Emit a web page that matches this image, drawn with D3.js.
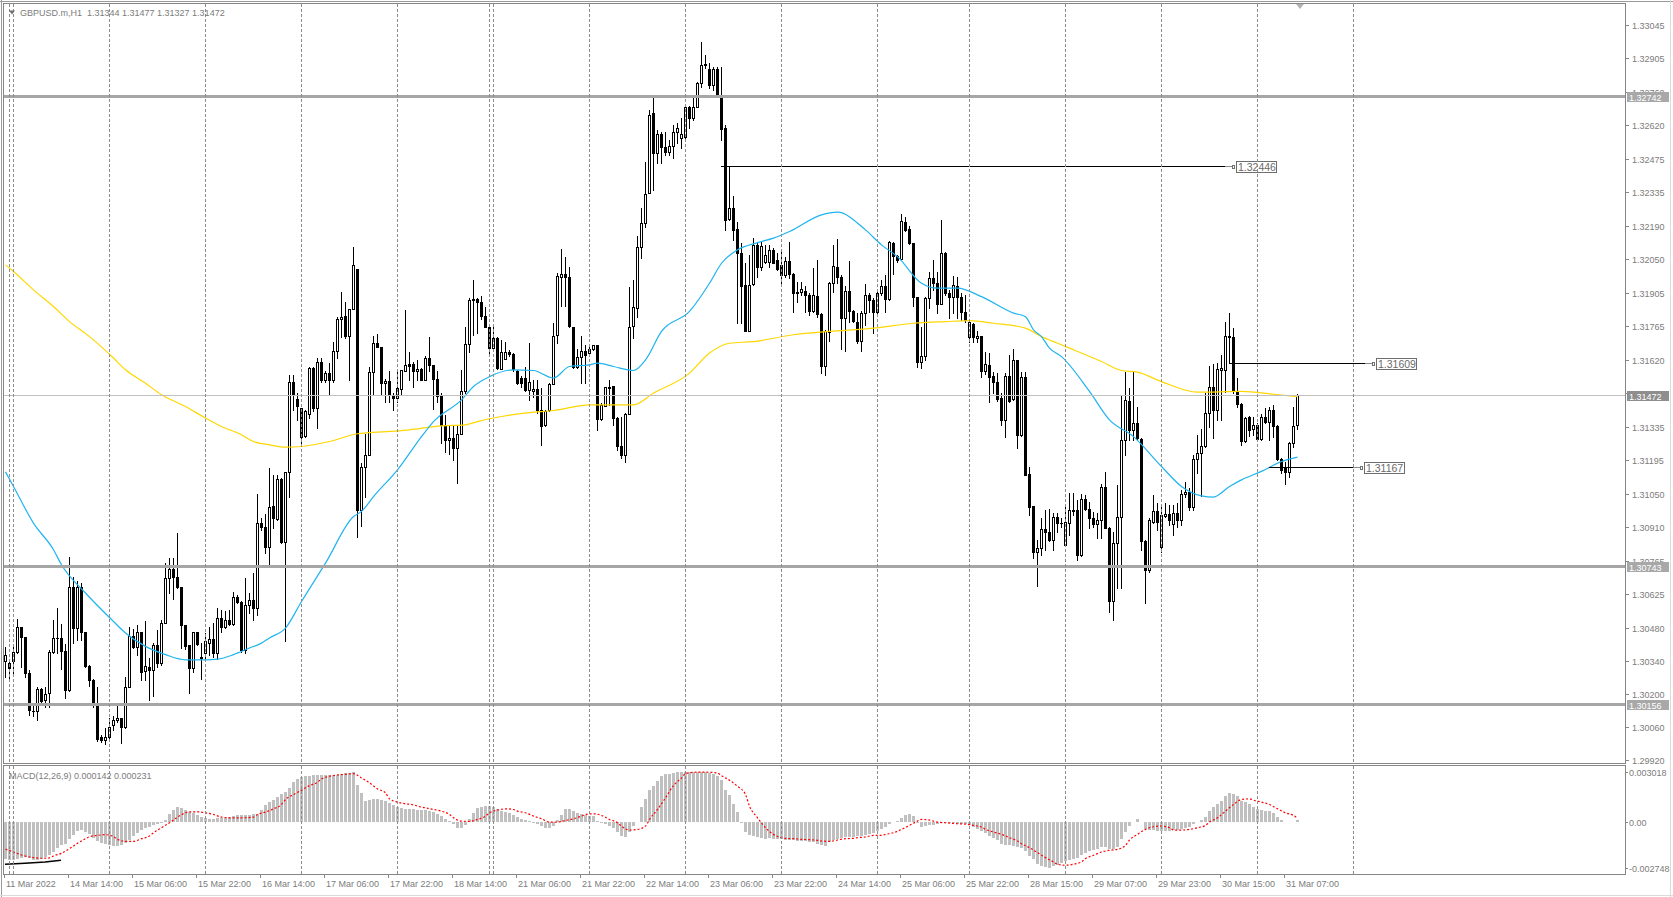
<!DOCTYPE html>
<html><head><meta charset="utf-8">
<script src="https://cdn.jsdelivr.net/npm/d3@7"></script>
<style>
html,body{margin:0;padding:0;background:#fff;overflow:hidden}
svg{display:block}
</style></head><body><div id="c"></div>
<script>
// ---------- DATA ----------
const symbolTitle = "GBPUSD.m,H1";
const lastBarOHLC = [1.31344, 1.31477, 1.31327, 1.31472];

const open = [
1.30343,1.30334,1.30339,1.30381,1.30484,1.30445,1.30289,1.30130,1.30127,1.30221,
1.30173,1.30204,1.30381,1.30438,1.30440,1.30385,1.30218,1.30657,1.30480,1.30657,
1.30466,1.30319,1.30261,1.30161,1.30017,1.30006,1.30017,1.30069,1.30088,1.30098,
1.30062,1.30232,1.30449,1.30402,1.30463,1.30299,1.30317,1.30303,1.30408,1.30334,
1.30501,1.30693,1.30731,1.30700,1.30654,1.30492,1.30408,1.30310,1.30463,1.30360,
1.30374,1.30419,1.30435,1.30374,1.30523,1.30487,1.30516,1.30497,1.30612,1.30591,
1.30388,1.30579,1.30601,1.30565,1.30927,1.30910,1.30825,1.30998,1.30944,1.31114,
1.30845,1.31144,1.31526,1.31456,1.31416,1.31296,1.31390,1.31586,1.31416,1.31612,
1.31536,1.31565,1.31534,1.31661,1.31794,1.31808,1.31723,1.31838,1.32008,1.30984,
1.31165,1.31215,1.31569,1.31695,1.31675,1.31522,1.31532,1.31470,1.31458,1.31497,
1.31576,1.31603,1.31603,1.31572,1.31583,1.31536,1.31631,1.31600,1.31541,1.31470,
1.31345,1.31279,1.31288,1.31246,1.31307,1.31490,1.31688,1.31876,1.31881,1.31867,
1.31808,1.31763,1.31671,1.31714,1.31583,1.31626,1.31654,1.31647,1.31576,1.31543,
1.31543,1.31494,1.31489,1.31497,1.31409,1.31345,1.31409,1.31519,1.31727,1.31975,
1.31985,1.31973,1.31763,1.31593,1.31633,1.31657,1.31652,1.31667,1.31685,1.31369,
1.31427,1.31501,1.31511,1.31373,1.31256,1.31215,1.31392,1.31766,1.31841,1.32100,
1.32202,1.32330,1.32670,1.32500,1.32582,1.32525,1.32507,1.32531,1.32588,1.32564,
1.32568,1.32695,1.32649,1.32698,1.32797,1.32875,1.32857,1.32790,1.32858,1.32741,
1.32606,1.32219,1.32266,1.32177,1.32077,1.31940,1.31744,1.31943,1.32110,1.32014,
1.32039,1.32039,1.32089,1.32046,1.32025,1.31982,1.32042,1.31985,1.31907,1.31908,
1.31914,1.31897,1.31831,1.31893,1.31816,1.31597,1.31741,1.31947,1.32015,1.31972,
1.31798,1.31914,1.31831,1.31784,1.31703,1.31819,1.31897,1.31876,1.31823,1.31904,
1.31935,1.31879,1.32117,1.32063,1.32050,1.32209,1.32176,1.32117,1.31887,1.31614,
1.31638,1.31883,1.31968,1.31947,1.31859,1.32077,1.31904,1.31890,1.31935,1.31890,
1.31826,1.31720,1.31774,1.31713,1.31723,1.31576,1.31600,1.31553,1.31529,1.31458,
1.31366,1.31553,1.31454,1.31621,1.31302,1.31550,1.31136,1.31000,1.30806,1.30820,
1.30901,1.30891,1.30856,1.30955,1.30929,1.30834,1.30926,1.30983,1.30983,1.30792,
1.31029,1.30986,1.30948,1.30924,1.30941,1.31080,1.30905,1.30594,1.30841,1.30955,
1.31281,1.31448,1.31323,1.31352,1.31284,1.30849,1.30728,1.30934,1.30980,1.30827,
1.30958,1.30966,1.30924,1.30969,1.30941,1.31051,1.31061,1.30997,1.31199,1.31224,
1.31255,1.31397,1.31505,1.31408,1.31578,1.31578,1.31724,1.31717,1.31490,1.31434,
1.31278,1.31377,1.31326,1.31345,1.31284,1.31377,1.31359,1.31408,1.31340,1.31199,
1.31160,1.31146,1.31267,1.31344];

const high = [
1.30402,1.30343,1.30408,1.30519,1.30487,1.30445,1.30303,1.30154,1.30232,1.30225,
1.30232,1.30388,1.30516,1.30565,1.30499,1.30414,1.30785,1.30700,1.30683,1.30672,
1.30466,1.30324,1.30263,1.30232,1.30027,1.30055,1.30098,1.30108,1.30164,1.30098,
1.30272,1.30487,1.30476,1.30494,1.30466,1.30509,1.30353,1.30416,1.30473,1.30516,
1.30757,1.30778,1.30778,1.30884,1.30657,1.30492,1.30408,1.30466,1.30466,1.30416,
1.30459,1.30487,1.30501,1.30565,1.30558,1.30555,1.30558,1.30636,1.30622,1.30594,
1.30693,1.30629,1.30714,1.31051,1.30948,1.30966,1.31160,1.31133,1.31133,1.31118,
1.31144,1.31555,1.31555,1.31480,1.31416,1.31409,1.31589,1.31593,1.31629,1.31629,
1.31572,1.31610,1.31699,1.31803,1.31908,1.31869,1.31838,1.32103,1.32008,1.31182,
1.31307,1.31593,1.31721,1.31732,1.31675,1.31541,1.31575,1.31480,1.31575,1.31579,
1.31834,1.31653,1.31614,1.31621,1.31586,1.31638,1.31718,1.31600,1.31572,1.31480,
1.31388,1.31345,1.31345,1.31345,1.31579,1.31760,1.31884,1.31961,1.31886,1.31893,
1.31845,1.31763,1.31763,1.31718,1.31706,1.31699,1.31664,1.31650,1.31579,1.31551,
1.31593,1.31692,1.31536,1.31536,1.31501,1.31409,1.31522,1.31777,1.31990,1.32092,
1.32057,1.32015,1.31763,1.31667,1.31723,1.31685,1.31678,1.31685,1.31685,1.31437,
1.31508,1.31536,1.31511,1.31380,1.31380,1.31394,1.31933,1.31961,1.32146,1.32266,
1.32464,1.32684,1.32734,1.32599,1.32588,1.32592,1.32556,1.32620,1.32627,1.32649,
1.32705,1.32701,1.32741,1.32804,1.32974,1.32918,1.32882,1.32865,1.32865,1.32865,
1.32620,1.32440,1.32316,1.32209,1.32117,1.32032,1.32066,1.32138,1.32117,1.32124,
1.32110,1.32110,1.32096,1.32075,1.32088,1.32060,1.32124,1.31989,1.31954,1.31954,
1.31935,1.31904,1.32010,1.32046,1.31819,1.31748,1.31954,1.32110,1.32134,1.31982,
1.31935,1.32043,1.31833,1.31819,1.31829,1.31944,1.31904,1.31883,1.31914,1.31961,
1.31982,1.32127,1.32124,1.32067,1.32242,1.32227,1.32191,1.32117,1.31890,1.31763,
1.31890,1.31996,1.32046,1.31996,1.32216,1.32081,1.31918,1.31978,1.31975,1.31904,
1.31897,1.31791,1.31780,1.31746,1.31723,1.31656,1.31652,1.31571,1.31567,1.31479,
1.31564,1.31642,1.31666,1.31621,1.31571,1.31571,1.31165,1.31000,1.30856,1.30948,
1.30983,1.30986,1.30969,1.30969,1.30948,1.31004,1.31054,1.31057,1.31026,1.31051,
1.31047,1.31019,1.30976,1.30969,1.31094,1.31146,1.30912,1.30891,1.31089,1.31472,
1.31571,1.31500,1.31571,1.31422,1.31288,1.30856,1.30948,1.31047,1.31012,1.31004,
1.31012,1.31004,1.31004,1.31012,1.31068,1.31104,1.31075,1.31217,1.31302,1.31326,
1.31479,1.31595,1.31604,1.31609,1.31642,1.31784,1.31819,1.31755,1.31543,1.31437,
1.31380,1.31383,1.31380,1.31352,1.31391,1.31415,1.31422,1.31430,1.31345,1.31203,
1.31189,1.31274,1.31422,1.31477];

const low = [
1.30275,1.30261,1.30289,1.30374,1.30314,1.30275,1.30112,1.30108,1.30091,1.30154,
1.30147,1.30147,1.30374,1.30374,1.30306,1.30183,1.30215,1.30416,1.30431,1.30431,
1.30317,1.30235,1.30147,1.30001,1.29996,1.29989,1.30006,1.30048,1.30083,1.29991,
1.30055,1.30232,1.30395,1.30367,1.30261,1.30261,1.30176,1.30190,1.30317,1.30324,
1.30501,1.30629,1.30603,1.30650,1.30395,1.30391,1.30204,1.30296,1.30408,1.30263,
1.30346,1.30367,1.30360,1.30348,1.30466,1.30480,1.30494,1.30494,1.30587,1.30381,
1.30374,1.30544,1.30516,1.30537,1.30898,1.30799,1.30749,1.30906,1.30941,1.30842,
1.30424,1.31040,1.31409,1.31366,1.31256,1.31293,1.31376,1.31402,1.31331,1.31529,
1.31529,1.31473,1.31529,1.31629,1.31718,1.31714,1.31534,1.31838,1.30868,1.30916,
1.31040,1.31215,1.31470,1.31674,1.31470,1.31444,1.31444,1.31409,1.31444,1.31477,
1.31572,1.31536,1.31504,1.31534,1.31534,1.31534,1.31572,1.31413,1.31444,1.31267,
1.31229,1.31222,1.31196,1.31097,1.31307,1.31480,1.31653,1.31728,1.31735,1.31794,
1.31760,1.31647,1.31664,1.31582,1.31582,1.31625,1.31636,1.31572,1.31519,1.31508,
1.31490,1.31451,1.31465,1.31394,1.31260,1.31338,1.31402,1.31519,1.31692,1.31851,
1.31851,1.31763,1.31586,1.31586,1.31522,1.31522,1.31642,1.31664,1.31324,1.31366,
1.31423,1.31430,1.31345,1.31239,1.31203,1.31189,1.31392,1.31713,1.31805,1.32053,
1.32188,1.32330,1.32344,1.32457,1.32460,1.32493,1.32493,1.32479,1.32542,1.32521,
1.32564,1.32606,1.32641,1.32698,1.32783,1.32861,1.32776,1.32769,1.32741,1.32556,
1.32174,1.32216,1.32131,1.31777,1.31777,1.31742,1.31742,1.31940,1.31975,1.32004,
1.32032,1.32018,1.32032,1.32004,1.31947,1.31975,1.31968,1.31826,1.31869,1.31897,
1.31826,1.31812,1.31826,1.31805,1.31564,1.31557,1.31703,1.31911,1.31947,1.31666,
1.31661,1.31784,1.31784,1.31692,1.31661,1.31770,1.31826,1.31737,1.31819,1.31897,
1.31826,1.31876,1.31986,1.32039,1.32050,1.32171,1.32113,1.31850,1.31593,1.31585,
1.31621,1.31840,1.31918,1.31819,1.31859,1.31897,1.31798,1.31819,1.31798,1.31791,
1.31784,1.31699,1.31696,1.31699,1.31550,1.31561,1.31444,1.31479,1.31448,1.31345,
1.31295,1.31444,1.31451,1.31245,1.31298,1.31132,1.30962,1.30778,1.30660,1.30792,
1.30813,1.30849,1.30813,1.30891,1.30912,1.30830,1.30877,1.30962,1.30771,1.30788,
1.30983,1.30905,1.30912,1.30863,1.30863,1.30905,1.30551,1.30516,1.30650,1.30650,
1.31217,1.31281,1.31281,1.31281,1.30813,1.30586,1.30721,1.30926,1.30898,1.30806,
1.30955,1.30919,1.30877,1.30912,1.30919,1.31040,1.30983,1.30983,1.31139,1.31043,
1.31252,1.31337,1.31288,1.31366,1.31366,1.31486,1.31607,1.31479,1.31422,1.31259,
1.31274,1.31298,1.31302,1.31281,1.31281,1.31352,1.31281,1.31295,1.31196,1.31139,
1.31094,1.31125,1.31252,1.31327];

const close = [
1.30367,1.30313,1.30381,1.30484,1.30445,1.30289,1.30133,1.30127,1.30221,1.30169,
1.30201,1.30381,1.30438,1.30440,1.30385,1.30218,1.30654,1.30480,1.30657,1.30466,
1.30319,1.30261,1.30161,1.30010,1.30003,1.30017,1.30059,1.30091,1.30098,1.30062,
1.30232,1.30449,1.30402,1.30463,1.30296,1.30321,1.30303,1.30408,1.30334,1.30501,
1.30693,1.30731,1.30700,1.30654,1.30492,1.30405,1.30310,1.30463,1.30412,1.30354,
1.30424,1.30435,1.30374,1.30523,1.30487,1.30516,1.30497,1.30612,1.30591,1.30388,
1.30579,1.30601,1.30565,1.30927,1.30910,1.30825,1.30997,1.30947,1.31114,1.30845,
1.31144,1.31526,1.31473,1.31423,1.31293,1.31402,1.31586,1.31416,1.31612,1.31536,
1.31565,1.31536,1.31661,1.31794,1.31803,1.31723,1.31838,1.32025,1.30984,1.31165,
1.31218,1.31569,1.31695,1.31675,1.31522,1.31532,1.31470,1.31458,1.31501,1.31579,
1.31600,1.31596,1.31572,1.31583,1.31536,1.31629,1.31600,1.31541,1.31466,1.31345,
1.31279,1.31288,1.31246,1.31307,1.31490,1.31688,1.31876,1.31879,1.31867,1.31806,
1.31763,1.31671,1.31714,1.31586,1.31654,1.31654,1.31647,1.31583,1.31525,1.31522,
1.31494,1.31529,1.31497,1.31409,1.31342,1.31404,1.31519,1.31723,1.31978,1.31985,
1.31973,1.31766,1.31593,1.31633,1.31657,1.31642,1.31667,1.31685,1.31369,1.31430,
1.31505,1.31508,1.31373,1.31253,1.31217,1.31392,1.31763,1.31845,1.32100,1.32202,
1.32327,1.32663,1.32500,1.32582,1.32525,1.32507,1.32531,1.32588,1.32606,1.32582,
1.32695,1.32649,1.32698,1.32797,1.32875,1.32880,1.32790,1.32857,1.32741,1.32602,
1.32216,1.32266,1.32174,1.32077,1.31936,1.31744,1.31940,1.32110,1.32014,1.32106,
1.32068,1.32089,1.32035,1.32007,1.31982,1.32042,1.31985,1.31904,1.31911,1.31921,
1.31897,1.31831,1.31897,1.31816,1.31597,1.31744,1.31947,1.32020,1.31972,1.31798,
1.31914,1.31831,1.31788,1.31703,1.31822,1.31897,1.31876,1.31823,1.31904,1.31935,
1.31879,1.32121,1.32063,1.32046,1.32212,1.32173,1.32117,1.31887,1.31614,1.31638,
1.31883,1.31968,1.31947,1.31859,1.32077,1.31904,1.31890,1.31940,1.31890,1.31826,
1.31791,1.31784,1.31720,1.31723,1.31576,1.31604,1.31547,1.31529,1.31455,1.31366,
1.31553,1.31448,1.31621,1.31302,1.31550,1.31132,1.30997,1.30806,1.30820,1.30901,
1.30891,1.30856,1.30955,1.30929,1.30926,1.30934,1.30983,1.30980,1.30792,1.31029,
1.30986,1.30948,1.30924,1.30941,1.31080,1.30905,1.30594,1.30841,1.30955,1.31281,
1.31451,1.31323,1.31352,1.31288,1.30849,1.30728,1.30941,1.30980,1.30934,1.30962,
1.30966,1.30941,1.30969,1.30941,1.31051,1.31061,1.30997,1.31199,1.31224,1.31255,
1.31397,1.31505,1.31408,1.31581,1.31585,1.31724,1.31717,1.31490,1.31434,1.31278,
1.31373,1.31323,1.31345,1.31284,1.31377,1.31359,1.31408,1.31340,1.31199,1.31153,
1.31146,1.31267,1.31340,1.31472];

// fast moving average (blue), read at sampled bars
const maFastBars = [0,2,7,12,14,20,27,30,35,40,45,50,53,57,61,64,66,70,74,80,87,89,92,98,104,107,114,117,121,127,132,137,141,146,148,152,157,160,164,171,176,179,183,188,192,196,204,208,215,219,223,229,233,238,244,252,255,257,259,261,264,271,276,282,289,294,299,302,306,309,314,319,323];
const maFastVals = [1.31145,1.31083,1.30927,1.30814,1.30750,1.30630,1.30509,1.30460,1.30403,1.30368,1.30346,1.30346,1.30349,1.30368,1.30396,1.30417,1.30439,1.30481,1.30594,1.30757,1.30955,1.30977,1.31040,1.31154,1.31295,1.31359,1.31451,1.31508,1.31550,1.31579,1.31576,1.31544,1.31593,1.31600,1.31607,1.31593,1.31576,1.31621,1.31742,1.31827,1.31947,1.32032,1.32089,1.32120,1.32139,1.32167,1.32238,1.32249,1.32174,1.32110,1.32060,1.31947,1.31926,1.31926,1.31890,1.31820,1.31805,1.31749,1.31720,1.31671,1.31635,1.31487,1.31366,1.31295,1.31168,1.31083,1.31043,1.31038,1.31083,1.31111,1.31147,1.31189,1.31208];
// slow moving average (yellow)
const maSlowBars = [0,2,7,12,16,21,27,30,35,39,45,50,54,59,62,66,70,74,81,88,96,101,109,115,118,122,131,137,146,157,162,171,176,181,187,197,206,217,227,235,241,247,255,259,262,266,274,279,283,289,298,309,317,323];
const maSlowVals = [1.32025,1.31997,1.31919,1.31848,1.31784,1.31720,1.31629,1.31579,1.31522,1.31473,1.31423,1.31374,1.31338,1.31303,1.31274,1.31260,1.31250,1.31253,1.31274,1.31307,1.31317,1.31324,1.31341,1.31345,1.31359,1.31374,1.31397,1.31406,1.31430,1.31430,1.31480,1.31565,1.31650,1.31692,1.31699,1.31728,1.31742,1.31756,1.31777,1.31784,1.31788,1.31777,1.31756,1.31720,1.31699,1.31671,1.31614,1.31576,1.31569,1.31529,1.31484,1.31487,1.31475,1.31465];

// MACD main (histogram), in millionths
const macdMainE6 = [
-2240,-2260,-2260,-2220,-2160,-2120,-2160,-2260,-2280,-2200,
-2100,-1980,-1780,-1560,-1400,-1340,-1040,-780,-540,-500,
-580,-740,-980,-1120,-1280,-1340,-1400,-1440,-1420,-1400,
-1280,-1080,-860,-660,-480,-380,-300,-200,-120,-40,
140,460,740,880,860,720,600,520,440,320,
240,200,200,220,240,260,300,360,440,440,
420,420,460,500,720,1020,1200,1360,1500,1680,
1800,2080,2440,2620,2700,2760,2800,2820,2840,2860,
2840,2840,2860,2840,2900,2960,2960,3000,2260,1760,
1300,1320,1400,1400,1340,1260,1160,1000,920,840,
800,800,760,740,720,700,660,600,500,340,
180,40,-120,-340,-380,-160,160,560,820,920,
960,940,880,760,640,600,540,420,280,180,
120,60,-40,-120,-220,-360,-360,-240,120,440,
780,800,660,540,480,420,380,340,80,-80,
-140,-220,-360,-600,-820,-880,-600,-220,10,880,
1400,1920,2160,2500,2760,2880,2920,2960,3000,3005,
3008,3012,3018,3012,3008,3000,2940,2880,2780,2560,
1960,1660,1100,580,-40,-600,-780,-860,-900,-940,
-1000,-980,-1000,-1040,-1040,-1060,-1100,-1100,-1120,-1140,
-1140,-1180,-1220,-1340,-1400,-1460,-1200,-1080,-1000,-980,
-920,-900,-880,-860,-840,-800,-740,-640,-560,-440,
-320,-140,-20,60,240,420,500,360,-80,-320,
-260,-200,-160,-100,-40,-40,-80,-80,-100,-100,
-100,-180,-300,-420,-540,-660,-820,-960,-1080,-1320,
-1380,-1400,-1420,-1480,-1560,-1760,-2060,-2240,-2540,-2620,
-2700,-2748,-2640,-2560,-2460,-2340,-2280,-2240,-2140,-2000,
-1840,-1760,-1680,-1600,-1500,-1480,-1600,-1600,-1480,-1040,
-600,-240,10,160,-10,-400,-480,-480,-540,-540,
-540,-520,-500,-500,-440,-340,-280,-120,20,120,
320,640,880,1100,1280,1560,1760,1720,1560,1300,
1200,1100,920,800,720,660,640,520,300,140,
10,10,20,142];

// MACD signal (red dotted), in millionths, read at sampled bars
const signalBars = [0,2,4,7,9,11,12,14,16,18,20,21,23,25,27,28,30,32,34,36,37,39,41,43,45,46,48,50,52,54,56,59,62,63,65,67,69,70,72,74,76,78,79,81,83,85,87,89,91,93,95,96,98,100,102,103,105,107,109,111,112,114,116,118,120,121,123,125,127,128,130,132,134,136,138,140,142,144,145,147,149,151,153,154,156,158,160,161,163,165,167,169,170,172,174,176,178,179,181,183,185,186,188,190,192,194,195,197,199,201,203,204,206,208,210,212,213,215,217,219,220,222,224,226,228,229,231,233,235,237,238,240,242,244,245,247,249,251,253,254,256,258,260,262,263,265,267,269,270,272,274,276,278,280,281,283,285,287,289,291,292,294,296,298,300,301,303,305,307,309,311,312,314,316,318,320,322,323];
const signalE6 = [-1640,-1800,-1980,-2140,-2180,-2160,-2040,-1880,-1600,-1280,-1000,-880,-800,-760,-880,-1040,-1160,-1160,-1000,-840,-640,-340,-40,300,560,620,620,560,460,300,260,260,300,460,600,800,1060,1360,1660,1920,2200,2400,2600,2760,2840,2880,2920,2660,2360,2000,1760,1400,1200,1100,1040,960,860,760,660,460,260,60,40,160,360,560,720,800,760,660,560,360,200,0,0,100,200,360,460,500,400,160,-40,-240,-480,-440,-240,160,760,1460,2200,2660,2920,3000,3010,3000,2960,2800,2520,2160,1660,960,260,-340,-740,-940,-980,-1000,-1040,-1060,-1100,-1140,-1160,-1080,-1000,-980,-940,-900,-800,-800,-740,-640,-440,-200,60,160,120,0,-40,-80,-100,-120,-200,-300,-440,-600,-740,-940,-1140,-1300,-1540,-1840,-2140,-2400,-2540,-2600,-2540,-2400,-2200,-2000,-1800,-1700,-1640,-1400,-1080,-740,-440,-280,-240,-340,-480,-480,-440,-340,-200,0,260,660,1060,1360,1400,1320,1200,1060,800,560,400,231];
// short black segment at the bottom-left of the MACD window
const blackSegBars = [0,5,10,14];
const blackSegE6 = [-2540,-2480,-2400,-2300];

const priceTicks = [1.33045,1.32905,1.32760,1.32620,1.32475,1.32335,1.32190,1.32050,1.31905,1.31765,1.31620,1.31480,1.31335,1.31195,1.31050,1.30910,1.30765,1.30625,1.30480,1.30340,1.30200,1.30060,1.29920];
const macdTicks = [0.003018, 0.0, -0.002748];
const macdTickText = ["0.003018","0.00","-0.002748"];
const timeLabels = ["11 Mar 2022","14 Mar 14:00","15 Mar 06:00","15 Mar 22:00","16 Mar 14:00","17 Mar 06:00","17 Mar 22:00","18 Mar 14:00","21 Mar 06:00","21 Mar 22:00","22 Mar 14:00","23 Mar 06:00","23 Mar 22:00","24 Mar 14:00","25 Mar 06:00","25 Mar 22:00","28 Mar 15:00","29 Mar 07:00","29 Mar 23:00","30 Mar 15:00","31 Mar 07:00"];
const timeLabelBars = [0,16,32,48,64,80,96,112,128,144,160,176,192,208,224,240,256,272,288,304,320];
const gridBars = [1,2,26,50,74,98,121,122,146,170,194,218,241,265,289,313,337];
const levelPrices = [1.32742, 1.30743, 1.30156];
const lastPrice = 1.31472;
const rayPrices = [1.32446, 1.31609, 1.31167];
const rayFromBar = [179, 306, 316];
const rayToBar = [305, 340, 337];

// ---------- DRAW ----------
const W = 1673, H = 897;
const FONT = '"Liberation Sans", Arial, sans-serif';
const L = 4, R = 1625, T = 4, B = 763, MT = 766, MB = 874;

const svg = d3.select("#c").append("svg").attr("width", W).attr("height", H)
  .style("font-family", FONT);
svg.append("rect").attr("width", W).attr("height", H).attr("fill", "#fff");

const defs = svg.append("defs");
defs.append("clipPath").attr("id","clipMain").append("rect").attr("x",L).attr("y",T).attr("width",R-L).attr("height",B-T);
defs.append("clipPath").attr("id","clipMacd").append("rect").attr("x",L).attr("y",MT).attr("width",R-L).attr("height",MB-MT);

const x = d3.scaleLinear().domain([0, 1]).range([5, 9]);          // bar index -> pixel column
const y = d3.scaleLinear().domain([1.29920, 1.33045]).range([760, 25]);
const ym = d3.scaleLinear().domain([-0.002748, 0.003018]).range([867.7, 772]);
const px = i => Math.round(x(i));

const gMain = svg.append("g").attr("clip-path","url(#clipMain)");
const gMacd = svg.append("g").attr("clip-path","url(#clipMacd)");

// grid (dashed verticals)
gridBars.forEach(b => {
  const gx = px(b) + 0.5;
  [[T, B], [MT, MB]].forEach(([a, c]) => {
    svg.append("line").attr("x1",gx).attr("x2",gx).attr("y1",a).attr("y2",c)
      .attr("stroke","#8c8c8c").attr("stroke-dasharray","3,2").attr("shape-rendering","crispEdges");
  });
});

// candles
const bars = d3.range(open.length).map(i => ({i, o: open[i], h: high[i], l: low[i], c: close[i]}));
const cg = gMain.append("g").attr("shape-rendering","crispEdges");
bars.forEach(d => {
  const cx = px(d.i) + 0.5;
  cg.append("line").attr("x1",cx).attr("x2",cx)
    .attr("y1",Math.round(y(d.h))).attr("y2",Math.round(y(d.l)) + 1).attr("stroke","#000");
  const top = Math.round(y(Math.max(d.o, d.c))), bot = Math.round(y(Math.min(d.o, d.c)));
  if (bot - top < 1) {
    cg.append("line").attr("x1",cx-1.5).attr("x2",cx+1.5).attr("y1",top+0.5).attr("y2",top+0.5).attr("stroke","#000");
  } else {
    cg.append("rect").attr("x",cx-1).attr("y",top+0.5).attr("width",2).attr("height",bot-top)
      .attr("fill", d.c >= d.o ? "#fff" : "#000").attr("stroke","#000");
  }
});

// moving averages
const maLine = d3.line().x(d => px(d[0]) + 0.5).y(d => y(d[1])).curve(d3.curveMonotoneX);
gMain.append("path").attr("d", maLine(maSlowBars.map((b,k)=>[b, maSlowVals[k]])))
  .attr("fill","none").attr("stroke","#ffd700").attr("stroke-width",1.2);
gMain.append("path").attr("d", maLine(maFastBars.map((b,k)=>[b, maFastVals[k]])))
  .attr("fill","none").attr("stroke","#1eb4f0").attr("stroke-width",1.2);

// last price line
gMain.append("line").attr("x1",L).attr("x2",R).attr("y1",Math.round(y(lastPrice))+0.5).attr("y2",Math.round(y(lastPrice))+0.5)
  .attr("stroke","#c0c0c0").attr("shape-rendering","crispEdges");
// horizontal levels
levelPrices.forEach(p => {
  const yy = Math.round(y(p));
  gMain.append("rect").attr("x",L).attr("y",yy-1).attr("width",R-L).attr("height",3).attr("fill","#a6a6a6");
});

// ray lines with labels
rayPrices.forEach((p, k) => {
  const yy = Math.round(y(p)) + 0.5;
  const x0 = px(rayFromBar[k]), x1 = px(rayToBar[k]);
  gMain.append("line").attr("x1",x0).attr("x2",x1).attr("y1",yy).attr("y2",yy).attr("stroke","#000").attr("shape-rendering","crispEdges");
  gMain.append("line").attr("x1",x1).attr("x2",x1+7).attr("y1",yy).attr("y2",yy).attr("stroke","#8a8a8a").attr("shape-rendering","crispEdges");
  gMain.append("rect").attr("x",x1+7.5).attr("y",yy-1.5).attr("width",2).attr("height",3).attr("fill","#fff").attr("stroke","#707070").attr("shape-rendering","crispEdges");
  gMain.append("rect").attr("x",x1+11.5).attr("y",yy-5.5).attr("width",40).attr("height",11).attr("fill","#fff").attr("stroke","#6e6e6e").attr("shape-rendering","crispEdges");
  gMain.append("text").attr("x",x1+13).attr("y",yy+4).attr("font-size","10.5px").attr("fill","#6a6a6a").text(p.toFixed(5));
});

// MACD histogram
const hg = gMacd.append("g").attr("shape-rendering","crispEdges");
macdMainE6.forEach((v, i) => {
  const val = v / 1e6;
  const y0 = Math.round(ym(0)), y1 = Math.round(ym(val));
  const hgt = Math.abs(y1 - y0);
  if (hgt < 1) return;
  hg.append("rect").attr("x", px(i) - 1).attr("y", Math.min(y0, y1)).attr("width", 3).attr("height", hgt).attr("fill","#c0c0c0");
});
// signal
const sigLine = d3.line().x(d => px(d[0]) + 0.5).y(d => ym(d[1] / 1e6)).curve(d3.curveMonotoneX);
gMacd.append("path").attr("d", sigLine(signalBars.map((b,k)=>[b, signalE6[k]])))
  .attr("fill","none").attr("stroke","#ff0000").attr("stroke-width",1.2).attr("stroke-dasharray","2,2");
gMacd.append("path").attr("d", d3.line().x(d=>px(d[0])).y(d=>ym(d[1]/1e6))(blackSegBars.map((b,k)=>[b, blackSegE6[k]])))
  .attr("fill","none").attr("stroke","#000").attr("stroke-width",1.5);

// frames
const frame = svg.append("g").attr("fill","none").attr("shape-rendering","crispEdges");
frame.append("rect").attr("x",L-0.5).attr("y",T-0.5).attr("width",R-L+1).attr("height",B-T+1).attr("stroke","#868686");
frame.append("rect").attr("x",L-0.5).attr("y",MT-0.5).attr("width",R-L+1).attr("height",MB-MT+1).attr("stroke","#868686");
frame.append("line").attr("x1",1.5).attr("x2",1.5).attr("y1",0).attr("y2",H).attr("stroke","#9a9a9a");
frame.append("line").attr("x1",0).attr("x2",W).attr("y1",1.5).attr("y2",1.5).attr("stroke","#9a9a9a");
frame.append("line").attr("x1",1670.5).attr("x2",1670.5).attr("y1",0).attr("y2",H).attr("stroke","#dadada");
frame.append("line").attr("x1",0).attr("x2",W).attr("y1",895.5).attr("y2",895.5).attr("stroke","#dadada");

// right price axis
const axisCol = "#7c7c7c";
priceTicks.forEach(p => {
  const yy = Math.round(y(p)) + 0.5;
  svg.append("line").attr("x1",R).attr("x2",R+4).attr("y1",yy).attr("y2",yy).attr("stroke","#868686").attr("shape-rendering","crispEdges");
  svg.append("text").attr("x",R+7).attr("y",yy+3.2).attr("font-size","9px").attr("fill",axisCol).text(p.toFixed(5));
});
// price boxes
function priceBox(p, fill) {
  const yy = Math.round(y(p));
  svg.append("rect").attr("x",R+2).attr("y",yy-4).attr("width",42).attr("height",10).attr("fill",fill);
  svg.append("text").attr("x",R+4).attr("y",yy+4.5).attr("font-size","9px").attr("fill","#fff").text(p.toFixed(5));
}
levelPrices.forEach(p => priceBox(p, "#a8a8a8"));
priceBox(lastPrice, "#8e8e8e");

// MACD axis
macdTicks.forEach((v, k) => {
  const yy = Math.round(ym(v)) + 0.5;
  svg.append("line").attr("x1",R).attr("x2",R+3).attr("y1",yy).attr("y2",yy).attr("stroke","#868686").attr("shape-rendering","crispEdges");
  svg.append("text").attr("x",R+4).attr("y",yy+3.2).attr("font-size","9px").attr("fill",axisCol).text(macdTickText[k]);
});

// time axis
timeLabelBars.forEach((b, k) => {
  const tx = px(b) - 1 + 0.5;
  svg.append("line").attr("x1",tx).attr("x2",tx).attr("y1",MB).attr("y2",MB+4).attr("stroke","#868686").attr("shape-rendering","crispEdges");
  svg.append("text").attr("x", k === 0 ? 6 : tx + 1.5).attr("y",887).attr("font-size","9px").attr("fill",axisCol).text(timeLabels[k]);
});

// titles
svg.append("path").attr("d","M9,10.5 L15,10.5 L12,14.5 Z").attr("fill","#6e6e6e");
svg.append("text").attr("x",20).attr("y",15.5).attr("font-size","9px").attr("fill",axisCol)
  .style("white-space","pre").text(symbolTitle + "  " + lastBarOHLC.map(v=>v.toFixed(5)).join(" "));
svg.append("text").attr("x",9).attr("y",778.5).attr("font-size","9px").attr("fill",axisCol)
  .text("MACD(12,26,9) " + (macdMainE6[macdMainE6.length-1]/1e6).toFixed(6) + " " + (signalE6[signalE6.length-1]/1e6).toFixed(6));
// chart shift marker
svg.append("path").attr("d","M1296,4 L1304,4 L1300,9 Z").attr("fill","#b4b4b4");
</script>
</body></html>
